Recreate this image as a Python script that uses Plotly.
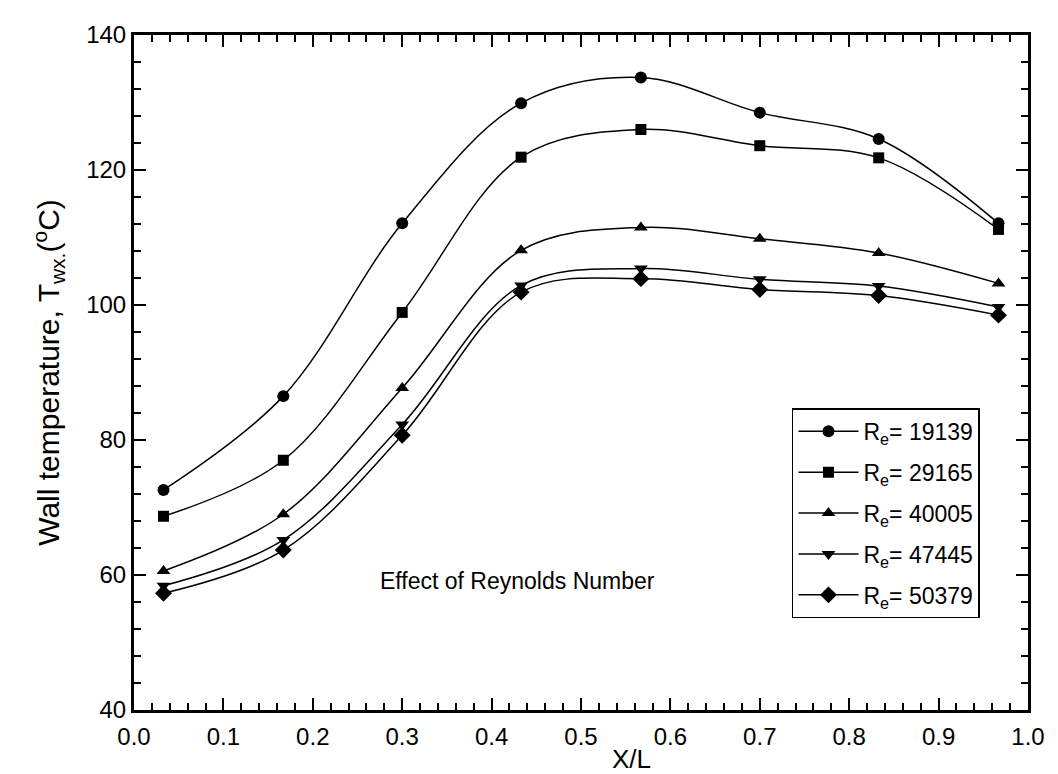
import plotly.graph_objects as go

x_pos = [0.033, 0.167, 0.300, 0.433, 0.567, 0.700, 0.833, 0.967]

re_labels = ["19139", "29165", "40005", "47445", "50379"]
t_re_19139 = [72.6, 86.5, 112.1, 129.9, 133.7, 128.5, 124.6, 112.1]
t_re_29165 = [68.7, 77.0, 98.9, 121.9, 126.0, 123.6, 121.8, 111.2]
t_re_40005 = [60.6, 69.0, 87.7, 108.1, 111.5, 109.8, 107.7, 103.2]
t_re_47445 = [58.4, 65.2, 82.3, 102.9, 105.4, 103.8, 102.8, 99.7]
t_re_50379 = [57.3, 63.7, 80.7, 101.9, 103.9, 102.3, 101.4, 98.5]
series = [t_re_19139, t_re_29165, t_re_40005, t_re_47445, t_re_50379]
symbols = ["circle", "square", "triangle-up", "triangle-down", "diamond"]
sizes = [12, 11, 12, 12, 13]

FONT = "Liberation Sans, Arial, sans-serif"

fig = go.Figure()
for i, (lab, ys) in enumerate(zip(re_labels, series)):
    fig.add_trace(go.Scatter(
        x=x_pos, y=ys, mode="lines+markers",
        name=f"R<sub>e</sub>= {lab}",
        legendgroup=f"g{i}",
        line=dict(color="black", width=1.5, shape="spline", smoothing=1.0),
        marker=dict(symbol=symbols[i], size=sizes[i], color="black"),
    ))

axis_common = dict(
    showline=True, linecolor="black", linewidth=3, mirror="ticks",
    ticks="inside", ticklen=12, tickwidth=2, tickcolor="black",
    showgrid=False, zeroline=False,
    tickfont=dict(family=FONT, size=24, color="black"),
)

fig.update_xaxes(
    range=[0, 1], dtick=0.1, tick0=0, tickformat=".1f",
    ticklabelstandoff=3,
    minor=dict(ticks="inside", ticklen=7, dtick=0.02, tickwidth=1.5, tickcolor="black"),
    **axis_common,
)
fig.update_yaxes(
    range=[40, 140], dtick=20, tick0=40,
    minor=dict(ticks="inside", ticklen=7, dtick=4, tickwidth=1.5, tickcolor="black"),
    title=dict(text="Wall temperature, T<sub>wx.</sub>(<sup>o</sup>C)",
               font=dict(family=FONT, size=30, color="black"), standoff=18),
    **axis_common,
)

fig.add_annotation(
    x=0.429, y=0.169, xref="paper", yref="paper",
    text="Effect of Reynolds Number", showarrow=False,
    font=dict(family=FONT, size=23, color="black"),
)
fig.add_annotation(
    x=0.556, y=-0.072, xref="paper", yref="paper", yanchor="middle",
    text="X/L", showarrow=False,
    font=dict(family=FONT, size=26, color="black"),
)

fig.update_layout(
    width=1058, height=774,
    margin=dict(l=126, r=38, t=27, b=72),
    paper_bgcolor="white", plot_bgcolor="white",
    font=dict(family=FONT, color="black"),
    legend=dict(
        x=0.736, y=0.447, xanchor="left", yanchor="top",
        bordercolor="black", borderwidth=1.5, bgcolor="white",
        font=dict(family=FONT, size=23, color="black"),
        tracegroupgap=8, itemwidth=60,
    ),
)

fig.write_html("out.html")
